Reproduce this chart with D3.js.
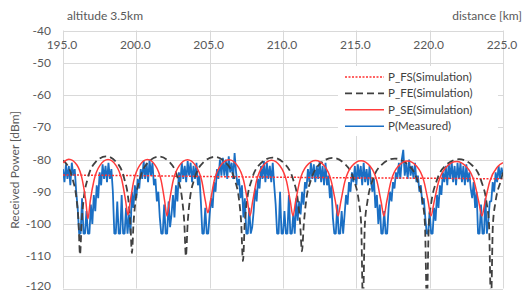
<!DOCTYPE html>
<html>
<head>
<meta charset="utf-8">
<script src="https://cdn.jsdelivr.net/npm/d3@7"></script>
<style>
  body { margin: 0; background: #fff; }
  svg { display: block; font-family: Lato, "Open Sans", sans-serif; }
  .tick-label { fill: #595959; font-size: 12px; }
  .legend-text { fill: #404040; font-size: 11.5px; }
</style>
</head>
<body>
<div id="chart"></div>
<script>
// ---- data ----
var xTicks = [195, 200, 205, 210, 215, 220, 225]
var yTicks = [-40, -50, -60, -70, -80, -90, -100, -110, -120]

// P_FS (free space)
var fsKm = [195, 200, 205, 210, 215, 220, 225]
var fsDb = [-84.8, -85.0, -85.3, -85.5, -85.7, -85.8, -86.0]

// P_FE (flat earth, two ray)
var feKm = [195.0, 195.13, 195.64, 195.92, 196.06, 196.16,
  196.27, 196.41, 196.69, 197.22, 197.93, 198.64, 199.17, 199.45, 199.59, 199.70,
  199.81, 199.96, 200.25, 200.80, 201.54, 202.28, 202.83, 203.12, 203.27, 203.38,
  203.50, 203.65, 203.96, 204.55, 205.33, 206.10, 206.69, 207.00, 207.15, 207.27,
  207.39, 207.55, 207.87, 208.48, 209.28, 210.08, 210.69, 211.01, 211.17, 211.29,
  211.42, 211.58, 211.91, 212.54, 213.37, 214.20, 214.83, 215.16, 215.33, 215.45,
  215.58, 215.76, 216.10, 216.76, 217.63, 218.50, 219.16, 219.51, 219.68, 219.81,
  219.94, 220.12, 220.47, 221.12, 222.00, 222.87, 223.52, 223.87, 224.05, 224.18,
  224.31, 224.49, 224.84, 225.0]
var feDb = [-80.3, -80.8, -85.8, -92.2, -99.5, -109.5,
  -99.5, -92.2, -85.8, -80.8, -79.0, -80.8, -85.8, -92.2, -99.5, -109,
  -99.6, -92.3, -85.9, -80.9, -79.1, -80.9, -85.9, -92.3, -99.6, -110,
  -99.7, -92.4, -86.0, -81.0, -79.2, -81.0, -86.0, -92.4, -99.7, -111.5,
  -99.9, -92.6, -86.2, -81.2, -79.4, -81.2, -86.2, -92.6, -99.9, -108.5,
  -100, -92.7, -86.3, -81.3, -79.5, -81.3, -86.3, -92.7, -100, -125,
  -100.2, -92.9, -86.5, -81.5, -79.7, -81.5, -86.5, -92.9, -100.2, -125,
  -100.4, -93.1, -86.7, -81.7, -79.9, -81.7, -86.7, -93.1, -100.4, -125,
  -100.4, -93.1, -86.7, -84]

// P_SE (spherical earth)
var seKm = [195.0, 195.4, 195.95, 196.32, 196.55, 196.70,
  196.86, 197.11, 197.52, 198.07, 198.61, 199.02, 199.27, 199.43,
  199.59, 199.83, 200.23, 200.76, 201.29, 201.69, 201.93, 202.09,
  202.26, 202.51, 202.93, 203.49, 204.04, 204.46, 204.71, 204.88,
  205.05, 205.31, 205.74, 206.32, 206.89, 207.32, 207.58, 207.75,
  207.93, 208.19, 208.63, 209.22, 209.80, 210.24, 210.50, 210.68,
  210.86, 211.14, 211.60, 212.22, 212.83, 213.29, 213.57, 213.75,
  213.94, 214.22, 214.69, 215.32, 215.94, 216.41, 216.69, 216.88,
  217.07, 217.36, 217.84, 218.49, 219.13, 219.61, 219.90, 220.09,
  220.30, 220.61, 221.13, 221.83, 222.52, 223.04, 223.35, 223.56,
  223.77, 224.09, 224.62, 225.0]
var seDb = [-81, -79.9, -81.7, -86.4, -92.7, -98.4,
  -92.8, -86.5, -81.8, -80.0, -81.8, -86.5, -92.8, -97.2,
  -92.8, -86.5, -81.8, -80.0, -81.8, -86.5, -92.8, -97.5,
  -92.9, -86.6, -81.9, -80.1, -81.9, -86.6, -92.9, -96.5,
  -92.9, -86.6, -81.9, -80.1, -81.9, -86.6, -92.9, -97.5,
  -93.0, -86.7, -82.0, -80.2, -82.0, -86.7, -93.0, -97.5,
  -93.0, -86.7, -82.0, -80.3, -82.0, -86.7, -93.0, -97.5,
  -93.1, -86.8, -82.1, -80.4, -82.1, -86.8, -93.1, -97.5,
  -93.1, -86.8, -82.2, -80.5, -82.2, -86.8, -93.1, -97.5,
  -93.2, -86.9, -82.3, -80.6, -82.3, -86.9, -93.2, -97.5,
  -93.2, -86.9, -82.3, -81.0]

// P (measured), one sample every 0.1 km from 195.0
var measStart = 195.0
var measStep = 0.1
var measDb = [
  -83, -87, -81.5, -86, -82, -88, -81, -85, -83, -90,
  -95, -103, -103, -92, -103, -103, -96, -103, -103, -94,
  -100, -91, -96, -88, -92, -84, -88, -81.5, -86, -82,
  -87, -81, -86, -83, -90, -103, -103, -93, -103, -103,
  -91, -103, -103, -95, -103, -97, -103, -90, -95, -88,
  -92, -86, -89, -83, -86, -80.5, -86, -81, -87, -80,
  -85, -81, -88, -86, -93, -90, -98, -103, -103, -94,
  -103, -103, -93, -101, -97, -91, -98, -88, -93, -84,
  -87, -81, -86, -82, -87, -80.5, -85, -81, -87, -82,
  -86, -81, -88, -85, -93, -103, -103, -95, -103, -103,
  -97, -92, -95, -87, -90, -83, -86, -80, -85, -79.5,
  -85, -80, -86, -79, -84, -81, -86, -78, -84, -88,
  -86, -92, -88, -98, -92, -103, -103, -95, -103, -101,
  -96, -89, -93, -86, -89, -82, -86, -80.5, -87, -81,
  -86, -82, -87, -81, -88, -94, -103, -103, -90, -103,
  -103, -96, -103, -103, -91, -103, -103, -97, -103, -92,
  -99, -93, -97, -90, -94, -87, -89, -83, -87, -81,
  -86, -81.5, -87, -82, -86, -80.5, -87, -82, -88, -81,
  -88, -85, -92, -88, -98, -103, -103, -94, -103, -103,
  -96, -103, -97, -91, -94, -87, -90, -84, -87, -82,
  -88, -81.5, -86, -82, -88, -81, -87, -83, -88, -82,
  -87, -90, -86, -95, -91, -100, -94, -103, -103, -96,
  -103, -103, -95, -90, -93, -87, -89, -84, -86, -81,
  -86, -80, -77, -85, -81, -86, -80, -85, -82, -86,
  -81, -87, -85, -90, -88, -94, -92, -98, -103, -103,
  -96, -103, -103, -95, -99, -91, -95, -88, -91, -84,
  -87, -82, -88, -81, -86, -80.5, -87, -82, -88, -81,
  -86, -81, -87, -82, -88, -81.5, -87, -84, -89, -92,
  -87, -95, -90, -103, -103, -94, -103, -103, -92, -103,
  -99, -93, -93, -87, -90, -84, -87, -82, -86, -82.5,
  -85]

var legendNames = ["P_FS(Simulation)", "P_FE(Simulation)", "P_SE(Simulation)", "P(Measured)"]

// ---- layout ----
var width = 524, height = 292
var margin = {top: 30.5, right: 21, bottom: 3.5, left: 63}

var svg = d3.select("#chart").append("svg")
    .attr("width", width)
    .attr("height", height)

svg.append("rect").attr("width", width).attr("height", height).attr("fill", "#fff")

var x = d3.scaleLinear().domain([195, 225]).range([margin.left, width - margin.right])
var y = d3.scaleLinear().domain([-120, -40]).range([height - margin.bottom, margin.top])

// gridlines
svg.append("g").selectAll("line").data(yTicks).enter().append("line")
    .attr("x1", x(195)).attr("x2", x(225))
    .attr("y1", function(d) { return Math.round(y(d)) + 0.5 })
    .attr("y2", function(d) { return Math.round(y(d)) + 0.5 })
    .attr("stroke", "#d9d9d9")

svg.append("g").selectAll("line").data(xTicks).enter().append("line")
    .attr("x1", function(d) { return Math.round(x(d)) + 0.5 })
    .attr("x2", function(d) { return Math.round(x(d)) + 0.5 })
    .attr("y1", y(-40)).attr("y2", y(-120))
    .attr("stroke", "#d9d9d9")

// tick labels
svg.append("g").selectAll("text").data(yTicks).enter().append("text")
    .attr("class", "tick-label")
    .attr("x", 51)
    .attr("y", function(d) { return Math.min(y(d) + 4, 290) })
    .attr("text-anchor", "end")
    .text(function(d) { return d })

svg.append("g").selectAll("text").data(xTicks).enter().append("text")
    .attr("class", "tick-label")
    .attr("x", function(d) { return x(d) - 1 })
    .attr("y", 49)
    .attr("text-anchor", "middle")
    .text(d3.format(".1f"))

// titles
svg.append("text").attr("class", "tick-label")
    .attr("x", 67).attr("y", 20)
    .text("altitude 3.5km")

svg.append("text").attr("class", "tick-label")
    .attr("x", 522).attr("y", 20)
    .attr("text-anchor", "end")
    .text("distance [km]")

svg.append("text").attr("class", "tick-label")
    .attr("transform", "translate(19,170) rotate(-90)")
    .attr("text-anchor", "middle")
    .text("Received Power [dBm]")

// clip for the series
svg.append("clipPath").attr("id", "plot-clip")
  .append("rect")
    .attr("x", x(195)).attr("y", y(-40))
    .attr("width", x(225) - x(195)).attr("height", y(-120) - y(-40))

var plot = svg.append("g").attr("clip-path", "url(#plot-clip)")

var pairs = function(ks, vs) { return ks.map(function(k, i) { return [k, vs[i]] }) }

var straight = d3.line().x(function(d) { return x(d[0]) }).y(function(d) { return y(d[1]) })
var smooth = d3.line().x(function(d) { return x(d[0]) }).y(function(d) { return y(d[1]) })
    .curve(d3.curveMonotoneX)

var meas = measDb.map(function(v, i) { return [measStart + i * measStep, v] })

plot.append("path")
    .attr("d", straight(meas))
    .attr("fill", "none")
    .attr("stroke", "#1a6fc4")
    .attr("stroke-width", 1.8)
    .attr("stroke-linejoin", "bevel")

plot.append("path")
    .attr("d", straight(pairs(fsKm, fsDb)))
    .attr("fill", "none")
    .attr("stroke", "#ff3030")
    .attr("stroke-width", 1.5)
    .attr("stroke-dasharray", "2,1.5")

plot.append("path")
    .attr("d", smooth(pairs(feKm, feDb)))
    .attr("fill", "none")
    .attr("stroke", "#404040")
    .attr("stroke-width", 1.8)
    .attr("stroke-dasharray", "7,4")

plot.append("path")
    .attr("d", smooth(pairs(seKm, seDb)))
    .attr("fill", "none")
    .attr("stroke", "#ff3b3b")
    .attr("stroke-width", 1.5)

// legend
var legend = svg.append("g")
legend.append("rect")
    .attr("x", 338).attr("y", 66).attr("width", 160).attr("height", 70)
    .attr("fill", "#fff")

var legendStyle = [
  {color: "#ff3030", dash: "2,1.5", w: 1.5},
  {color: "#404040", dash: "7,4", w: 1.8},
  {color: "#ff3b3b", dash: null, w: 1.5},
  {color: "#1a6fc4", dash: null, w: 1.5}
]

var entry = legend.selectAll(".legend-entry").data(legendNames).enter().append("g")
    .attr("class", "legend-entry")
    .attr("transform", function(d, i) { return "translate(0," + (77 + i * 16.4) + ")" })

entry.append("line")
    .attr("x1", 345).attr("x2", 384)
    .attr("stroke", function(d, i) { return legendStyle[i].color })
    .attr("stroke-width", function(d, i) { return legendStyle[i].w })
    .attr("stroke-dasharray", function(d, i) { return legendStyle[i].dash })

entry.append("text")
    .attr("class", "legend-text")
    .attr("x", 388).attr("y", 4)
    .text(function(d) { return d })
</script>
</body>
</html>
